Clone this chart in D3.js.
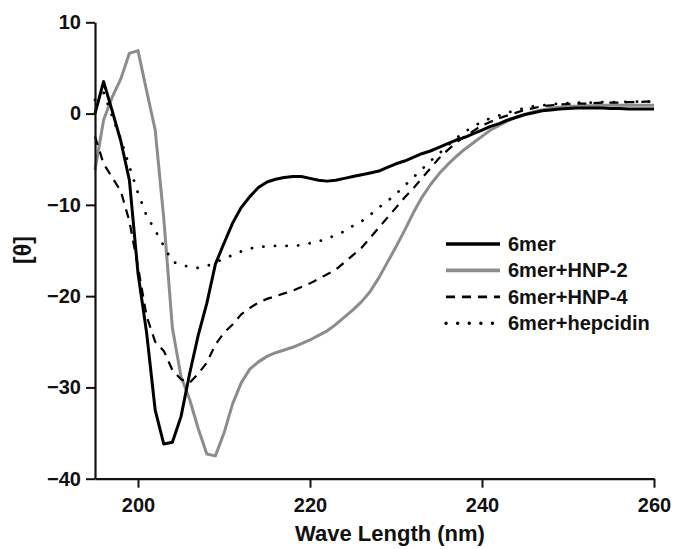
<!DOCTYPE html>
<html>
<head>
<meta charset="utf-8">
<script src="https://cdn.jsdelivr.net/npm/d3@7"></script>
<style>
  body { margin: 0; background: #fff; }
  svg text { font-family: 'Liberation Sans', Arial, sans-serif; font-weight: bold; fill: #111; }
</style>
</head>
<body>
<div id="chart"></div>
<script>
// wavelength (nm), one reading per nm
const wavelengths = [195, 196, 197, 198, 199, 200, 201, 202, 203, 204, 205, 206, 207, 208, 209,
  210, 211, 212, 213, 214, 215, 216, 217, 218, 219, 220, 221, 222, 223, 224, 225, 226, 227, 228, 229,
  230, 231, 232, 233, 234, 235, 236, 237, 238, 239, 240, 241, 242, 243, 244, 245, 246, 247, 248, 249,
  250, 251, 252, 253, 254, 255, 256, 257, 258, 259, 260];

const sixmer = [0, 3.5, 0.3, -3, -7.3, -17.5, -24, -32.5, -36.2, -36, -33.2, -28.5, -24.3, -20.8, -16.5,
  -14.2, -12, -10.3, -9.1, -8.1, -7.5, -7.2, -7.0, -6.9, -6.9, -7.1, -7.3, -7.4, -7.3, -7.1, -6.9, -6.7, -6.5, -6.3, -5.9,
  -5.5, -5.2, -4.8, -4.4, -4.1, -3.7, -3.3, -2.9, -2.6, -2.2, -1.8, -1.4, -1.1, -0.7, -0.4, -0.1, 0.1, 0.3, 0.4, 0.5,
  0.55, 0.6, 0.6, 0.6, 0.6, 0.55, 0.55, 0.5, 0.5, 0.5, 0.5];

const sixmerHNP2 = [-6.2, -0.7, 1.8, 3.8, 6.6, 6.9, 2.5, -1.8, -11.5, -23.5, -28.8, -31.3, -34.5, -37.3, -37.5,
  -35, -31.8, -29.5, -28, -27.2, -26.6, -26.2, -25.9, -25.6, -25.2, -24.8, -24.3, -23.8, -23.1, -22.3, -21.5, -20.6, -19.5, -18, -16.3,
  -14.6, -12.8, -10.9, -9.2, -7.8, -6.6, -5.6, -4.7, -3.9, -3.2, -2.5, -1.8, -1.3, -0.8, -0.4, -0.1, 0.2, 0.4, 0.6, 0.7,
  0.8, 0.8, 0.85, 0.85, 0.9, 0.9, 0.9, 0.9, 0.9, 0.9, 0.9];

const sixmerHNP4 = [-2.5, -5.5, -7, -8.5, -11.8, -16.8, -22.2, -25, -26, -28.1, -29.1, -29.5, -28.5, -27.3, -25.3,
  -24, -23.1, -22, -21.3, -20.7, -20.3, -20, -19.7, -19.4, -19, -18.6, -18.1, -17.6, -17.1, -16.3, -15.5, -14.7, -13.6, -12.5, -11.4,
  -10.3, -9.2, -8.2, -7.1, -6, -4.9, -4, -3.2, -2.5, -1.9, -1.3, -0.9, -0.5, -0.2, 0.1, 0.4, 0.6, 0.8, 0.9, 1.0,
  1.05, 1.1, 1.1, 1.15, 1.2, 1.2, 1.2, 1.25, 1.25, 1.3, 1.3];

const sixmerHepcidin = [1.5, 2.3, -0.3, -2.8, -5.8, -8.7, -11.2, -12.8, -14.5, -16.2, -16.6, -16.8, -16.9, -16.7, -16.3,
  -15.9, -15.5, -15.1, -14.8, -14.6, -14.55, -14.5, -14.5, -14.5, -14.4, -14.2, -14.0, -13.7, -13.3, -12.9, -12.3, -11.8, -11.1, -10.3, -9.6,
  -8.8, -7.9, -7, -6.1, -5.2, -4.4, -3.5, -2.7, -2.0, -1.4, -0.9, -0.5, -0.2, 0.1, 0.4, 0.6, 0.8, 0.9, 1.0, 1.1,
  1.15, 1.2, 1.2, 1.2, 1.25, 1.25, 1.25, 1.3, 1.3, 1.3, 1.3];

const seriesNames = ['6mer', '6mer+HNP-2', '6mer+HNP-4', '6mer+hepcidin'];
const xTicks = [200, 220, 240, 260];
const yTicks = [10, 0, -10, -20, -30, -40];

const width = 675, height = 549;

const styles = [
  { color: '#000', width: 3, dash: null, cap: 'butt' },
  { color: '#8c8c8c', width: 3, dash: null, cap: 'butt' },
  { color: '#000', width: 2.2, dash: '9,7', cap: 'butt' },
  { color: '#000', width: 2.8, dash: '0.1,11.5', cap: 'round' },
];

const series = [sixmer, sixmerHNP2, sixmerHNP4, sixmerHepcidin].map((vals, i) => ({
  name: seriesNames[i],
  style: styles[i],
  points: wavelengths.map((w, j) => [w, vals[j]]),
}));

const x = d3.scaleLinear().domain([195, 260]).range([95, 654]);
const y = d3.scaleLinear().domain([-40, 10]).range([478.7, 22.3]);

const svg = d3.select('#chart')
  .append('svg')
  .attr('width', width)
  .attr('height', height);

// draw order: grey under the black ones
const drawOrder = [1, 2, 3, 0];
const line = d3.line().x(d => x(d[0])).y(d => y(d[1]));

svg.append('g')
  .selectAll('path')
  .data(drawOrder.map(i => series[i]))
  .join('path')
  .attr('d', d => line(d.points))
  .attr('fill', 'none')
  .attr('stroke', d => d.style.color)
  .attr('stroke-width', d => d.style.width)
  .attr('stroke-dasharray', d => d.style.dash)
  .attr('stroke-linecap', d => d.style.cap)
  .attr('stroke-linejoin', 'round');

const xAxis = svg.append('g')
  .attr('transform', `translate(0,${y(-40)})`)
  .call(d3.axisBottom(x).tickValues(xTicks).tickSize(9).tickPadding(10).tickSizeOuter(0));

const yAxis = svg.append('g')
  .attr('transform', `translate(${x(195)},0)`)
  .call(d3.axisLeft(y).tickValues(yTicks).tickSize(9).tickPadding(5).tickSizeOuter(0));

[xAxis, yAxis].forEach(g => {
  g.select('.domain').attr('stroke', '#111').attr('stroke-width', 2.2);
  g.selectAll('.tick line').attr('stroke', '#111').attr('stroke-width', 2);
  g.selectAll('.tick text')
    .attr('font-size', 20)
    .attr('font-family', "'Liberation Sans', Arial, sans-serif")
    .attr('font-weight', 'bold')
    .attr('fill', '#111');
});

svg.append('text')
  .attr('x', 390)
  .attr('y', 541)
  .attr('text-anchor', 'middle')
  .attr('font-size', 22)
  .text('Wave Length (nm)');

svg.append('text')
  .attr('transform', 'translate(23,250) rotate(-90)')
  .attr('text-anchor', 'middle')
  .attr('dominant-baseline', 'central')
  .attr('font-size', 23)
  .text('[θ]');

// legend
const legend = svg.append('g')
  .selectAll('g')
  .data(series)
  .join('g')
  .attr('transform', (d, i) => `translate(446,${244 + i * 26.4})`);

legend.append('line')
  .attr('x1', 0)
  .attr('x2', 54)
  .attr('stroke', d => d.style.color)
  .attr('stroke-width', d => d.style.width + 0.6)
  .attr('stroke-dasharray', d => d.style.dash)
  .attr('stroke-linecap', d => d.style.cap);

legend.append('text')
  .attr('x', 62)
  .attr('dy', '0.35em')
  .attr('font-size', 20)
  .text(d => d.name);
</script>
</body>
</html>
